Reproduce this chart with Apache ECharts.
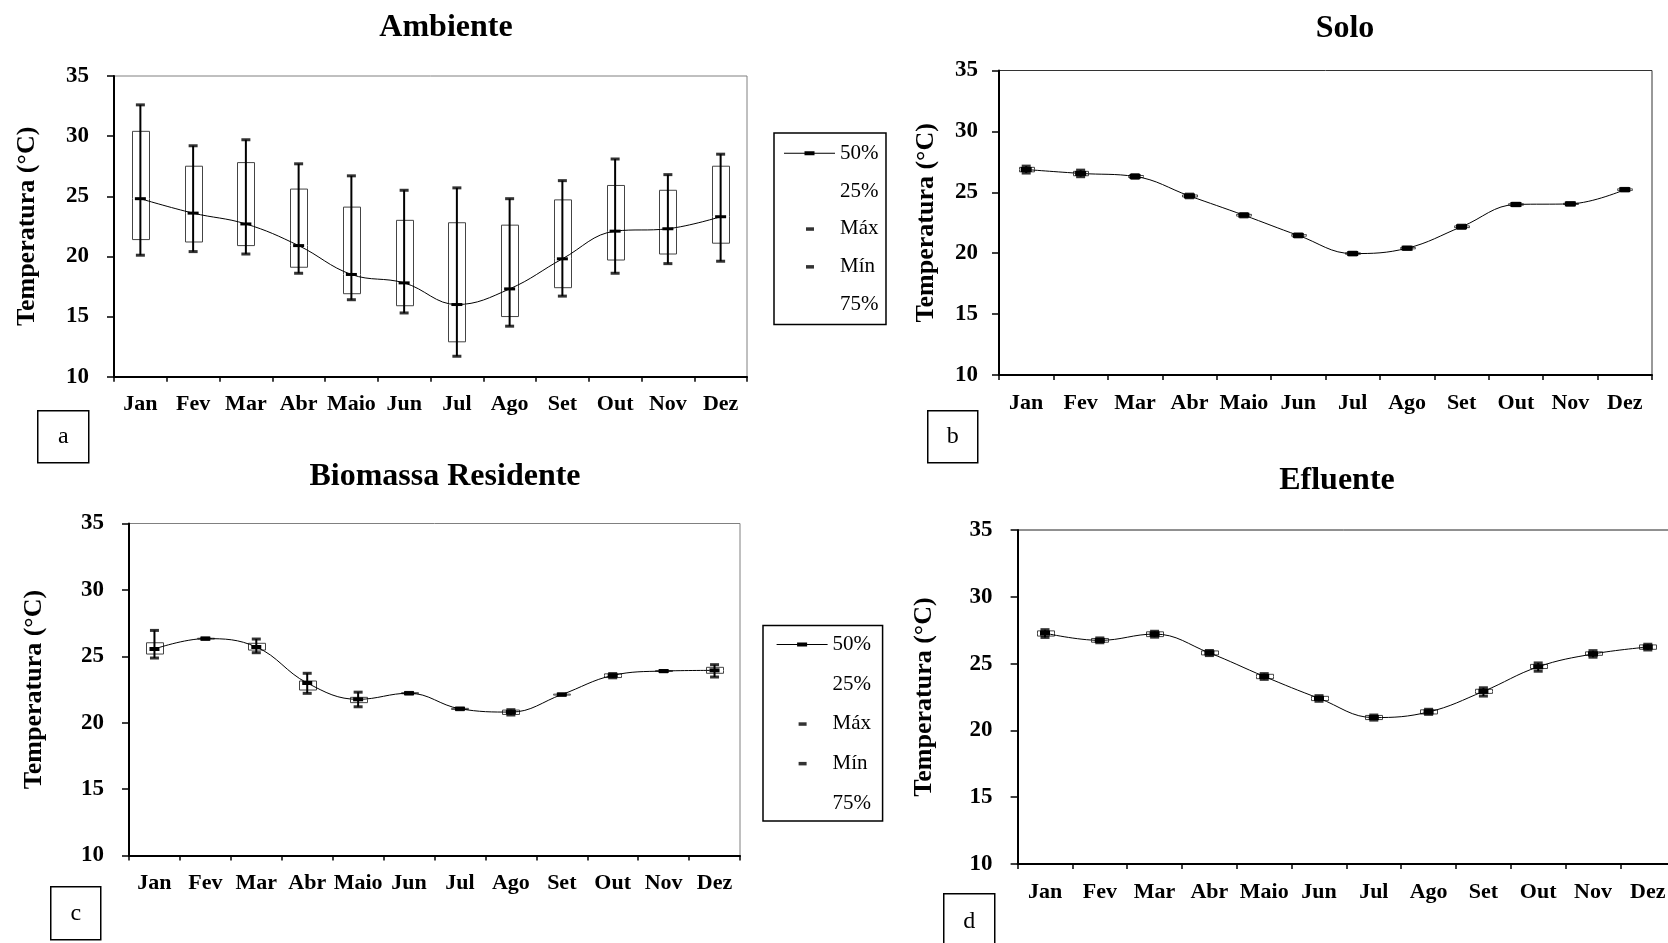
<!DOCTYPE html>
<html><head><meta charset="utf-8">
<script src="https://cdn.jsdelivr.net/npm/echarts@6/dist/echarts.min.js"></script>
<style>html,body{margin:0;padding:0;background:#fff}#c{width:1668px;height:943px}</style>
</head><body><div id="c"></div>
<script>
// ---------- DATA ----------
const months = ['Jan','Fev','Mar','Abr','Maio','Jun','Jul','Ago','Set','Out','Nov','Dez'];
const yTicks = [10, 15, 20, 25, 30, 35];
const legendNames = ['50%', '25%', 'Máx', 'Mín', '75%'];
const panelTitles = ['Ambiente', 'Solo', 'Biomassa Residente', 'Efluente'];
const panelLetters = ['a', 'b', 'c', 'd'];
const yAxisTitle = 'Temperatura (°C)';

// (a) Ambiente
const ambMax = [32.6, 29.2, 29.7, 27.7, 26.7, 25.5, 25.7, 24.8, 26.3, 28.1, 26.8, 28.5];
const ambQ3  = [30.4, 27.5, 27.8, 25.6, 24.1, 23.0, 22.8, 22.6, 24.7, 25.9, 25.5, 27.5];
const ambMed = [24.8, 23.6, 22.7, 20.9, 18.5, 17.8, 16.0, 17.3, 19.8, 22.1, 22.3, 23.3];
const ambQ1  = [21.4, 21.2, 20.9, 19.1, 16.9, 15.9, 12.9, 15.0, 17.4, 19.7, 20.2, 21.1];
const ambMin = [20.1, 20.4, 20.2, 18.6, 16.4, 15.3, 11.7, 14.2, 16.7, 18.6, 19.4, 19.6];

// (b) Solo
const soloMax = [27.15, 26.82, 26.45, 24.85, 23.25, 21.58, 20.08, 20.50, 22.30, 24.10, 24.15, 25.32];
const soloQ3  = [27.05, 26.72, 26.38, 24.78, 23.19, 21.52, 20.03, 20.46, 22.24, 24.06, 24.10, 25.28];
const soloMed = [26.87, 26.55, 26.30, 24.70, 23.12, 21.46, 19.97, 20.41, 22.17, 24.00, 24.05, 25.22];
const soloQ1  = [26.68, 26.36, 26.22, 24.62, 23.05, 21.40, 19.91, 20.36, 22.10, 23.94, 24.00, 25.16];
const soloMin = [26.58, 26.28, 26.15, 24.55, 22.98, 21.34, 19.86, 20.32, 22.04, 23.90, 23.95, 25.12];

// (c) Biomassa Residente
const bioMax = [26.95, 26.38, 26.30, 23.72, 22.30, 22.28, 21.10, 20.98, 22.17, 23.70, 23.93, 24.37];
const bioQ3  = [26.02, 26.36, 25.98, 23.14, 21.91, 22.26, 21.08, 20.95, 22.15, 23.68, 23.92, 24.17];
const bioMed = [25.55, 26.33, 25.70, 22.99, 21.76, 22.22, 21.05, 20.80, 22.12, 23.56, 23.89, 23.94];
const bioQ1  = [25.17, 26.30, 25.47, 22.46, 21.51, 22.18, 21.00, 20.62, 22.08, 23.40, 23.86, 23.72];
const bioMin = [24.87, 26.28, 25.27, 22.21, 21.20, 22.16, 20.98, 20.58, 22.06, 23.38, 23.84, 23.44];

// (d) Efluente
const efMax = [27.54, 26.92, 27.42, 25.98, 24.25, 22.60, 21.15, 21.58, 23.19, 25.05, 25.97, 26.45];
const efQ3  = [27.45, 26.88, 27.38, 25.95, 24.20, 22.55, 21.12, 21.54, 23.08, 24.94, 25.88, 26.40];
const efMed = [27.28, 26.74, 27.21, 25.80, 24.04, 22.40, 20.96, 21.38, 22.92, 24.76, 25.72, 26.24];
const efQ1  = [27.06, 26.60, 27.02, 25.65, 23.87, 22.23, 20.81, 21.23, 22.77, 24.63, 25.62, 26.07];
const efMin = [26.96, 26.56, 26.98, 25.60, 23.82, 22.18, 20.77, 21.20, 22.57, 24.43, 25.48, 26.02];

// ---------- LAYOUT / STYLE ----------
const panelData = [
  {max: ambMax, q3: ambQ3, med: ambMed, q1: ambQ1, min: ambMin},
  {max: soloMax, q3: soloQ3, med: soloMed, q1: soloQ1, min: soloMin},
  {max: bioMax, q3: bioQ3, med: bioMed, q1: bioQ1, min: bioMin},
  {max: efMax, q3: efQ3, med: efMed, q1: efQ1, min: efMin}
];
const FONT = '"Liberation Serif", "Times New Roman", serif';
const layout = [
  {grid:{left:114, top:76, width:633, height:300.7}, title:[441, 7], nameGap:74, yMargin:25, boxW:17, capW:9, med:[11,3], border:'#808080',
   legend:{left:774, top:133, gap:16.8, pad:[9.7,7.5,9.7,10]}, tag:[37,410,51,52]},
  {grid:{left:999, top:70.5, width:653, height:304.5}, title:[1340, 8], nameGap:60, yMargin:21, boxW:15, capW:9, med:[11,5], border:'#333',
   legend:null, tag:[927,410,50,52]},
  {grid:{left:129, top:523.5, width:611, height:332}, title:[440, 456], nameGap:82, yMargin:25, boxW:17, capW:9, med:[10,4], border:'#808080',
   legend:{left:763, top:625.5, gap:18.6, pad:[8.6,11.5,7.6,13.6]}, tag:[50,886,50,53]},
  {grid:{left:1017.6, top:530, width:657.6, height:334}, title:[1332, 460], nameGap:80, yMargin:25, boxW:17, capW:9, med:[10,5], border:'#222',
   legend:null, tag:[943,893,51,56]}
];

// ---------- BUILD ----------
function halfBox(width, edge) {
  return function (params, api) {
    const i = api.value(0);
    const lo = api.coord([i, api.value(1)]);
    const hi = api.coord([i, api.value(2)]);
    const l = Math.round(lo[0] - width / 2) + 0.5, r = l + width;
    const ye = edge === 'low' ? lo[1] : hi[1];
    const ym = edge === 'low' ? hi[1] : lo[1];
    return {type: 'group', children: [
      {type: 'rect', shape: {x: l, y: hi[1], width: width, height: lo[1] - hi[1]}, style: {fill: '#fff'}},
      {type: 'polyline', shape: {points: [[l, ym], [l, ye], [r, ye], [r, ym]]}, style: {stroke: '#444', lineWidth: 1, fill: null}}
    ]};
  };
}
function whisker(params, api) {
  const i = api.value(0);
  const lo = api.coord([i, api.value(1)]);
  const hi = api.coord([i, api.value(2)]);
  return {type: 'line', shape: {x1: lo[0], y1: lo[1], x2: hi[0], y2: hi[1]}, style: {stroke: '#000', lineWidth: 2}};
}

const grids = [], xAxes = [], yAxes = [], series = [], titles = [], legends = [], graphics = [];
panelData.forEach((d, k) => {
  const L = layout[k];
  grids.push(Object.assign({show: true, borderColor: L.border, borderWidth: 1, backgroundColor: 'transparent', containLabel: false, outerBoundsMode: 'none'}, L.grid));
  xAxes.push({
    gridIndex: k, type: 'category', data: months, boundaryGap: true,
    axisLine: {show: true, lineStyle: {color: '#000', width: 2}},
    axisTick: {show: true, interval: 0, length: 5, lineStyle: {color: '#000', width: 1.5}},
    axisLabel: {interval: 0, margin: 17, color: '#000', fontFamily: FONT, fontWeight: 'bold', fontSize: 22},
    splitLine: {show: false}
  });
  yAxes.push({
    gridIndex: k, type: 'value', min: yTicks[0], max: yTicks[yTicks.length - 1], interval: yTicks[1] - yTicks[0],
    axisLine: {show: true, lineStyle: {color: '#000', width: 2}},
    axisTick: {show: true, length: 7, lineStyle: {color: '#000', width: 1.5}},
    axisLabel: {margin: L.yMargin, color: '#000', fontFamily: FONT, fontWeight: 'bold', fontSize: 23},
    splitLine: {show: false},
    name: yAxisTitle, nameLocation: 'middle', nameGap: L.nameGap,
    nameTextStyle: {color: '#000', fontFamily: FONT, fontWeight: 'bold', fontSize: 26}
  });
  const ax = {xAxisIndex: k, yAxisIndex: k};
  series.push(Object.assign({type: 'custom', name: '25%', renderItem: halfBox(L.boxW, 'low'), z: 2, itemStyle: {color: '#000'},
    encode: {x: 0, y: [1, 2]}, data: months.map((m, i) => [i, d.q1[i], d.med[i]])}, ax));
  series.push(Object.assign({type: 'custom', name: '75%', renderItem: halfBox(L.boxW, 'high'), z: 2, itemStyle: {color: '#000'},
    encode: {x: 0, y: [1, 2]}, data: months.map((m, i) => [i, d.med[i], d.q3[i]])}, ax));
  series.push(Object.assign({type: 'custom', name: 'Máx–Mín', renderItem: whisker, z: 3,
    encode: {x: 0, y: [1, 2]}, data: months.map((m, i) => [i, d.min[i], d.max[i]])}, ax));
  series.push(Object.assign({type: 'line', name: '50%', data: d.med, smooth: 0.4, symbol: 'rect', symbolSize: L.med, z: 4,
    lineStyle: {color: '#000', width: 1}, itemStyle: {color: '#000'}}, ax));
  series.push(Object.assign({type: 'scatter', name: 'Máx', data: d.max, symbol: 'rect', symbolSize: [L.capW, 3], z: 5, itemStyle: {color: '#000'}}, ax));
  series.push(Object.assign({type: 'scatter', name: 'Mín', data: d.min, symbol: 'rect', symbolSize: [L.capW, 3], z: 5, itemStyle: {color: '#000'}}, ax));

  titles.push({text: panelTitles[k], left: L.title[0], top: L.title[1], textAlign: 'center',
    textStyle: {color: '#000', fontFamily: FONT, fontWeight: 'bold', fontSize: 32}});

  if (L.legend) {
    const icons = {
      '50%': 'path://M0,0M0,10h51v1h-51zM20.5,8.5h10v4h-10zM51,21',
      '25%': 'none',
      'Máx': 'path://M0,0M22,9h8v3.5h-8zM51,21',
      'Mín': 'path://M0,0M22,9h8v3.5h-8zM51,21',
      '75%': 'none'
    };
    legends.push({
      orient: 'vertical', left: L.legend.left, top: L.legend.top, padding: L.legend.pad,
      itemGap: L.legend.gap, itemWidth: 51, itemHeight: 21, selectedMode: false,
      borderColor: '#000', borderWidth: 1.5, backgroundColor: '#fff',
      textStyle: {color: '#000', fontFamily: FONT, fontSize: 21},
      itemStyle: {borderWidth: 0},
      data: legendNames.map(n => ({name: n, icon: icons[n]}))
    });
  }
  const t = L.tag;
  graphics.push({type: 'group', left: t[0], top: t[1], children: [
    {type: 'rect', shape: {x: 0, y: 0, width: t[2], height: t[3]}, style: {fill: '#fff', stroke: '#000', lineWidth: 1.5}},
    {type: 'text', style: {x: t[2] / 2, y: t[3] / 2, text: panelLetters[k], font: '24px ' + FONT, fill: '#000',
      align: 'center', verticalAlign: 'middle', textAlign: 'center', textVerticalAlign: 'middle'}}
  ]});
});

const chart = echarts.init(document.getElementById('c'), null, {renderer: 'canvas'});
chart.setOption({
  animation: false,
  backgroundColor: '#fff',
  title: titles, grid: grids, xAxis: xAxes, yAxis: yAxes, legend: legends, series: series, graphic: graphics,
  tooltip: {show: false}
});
</script></body></html>
